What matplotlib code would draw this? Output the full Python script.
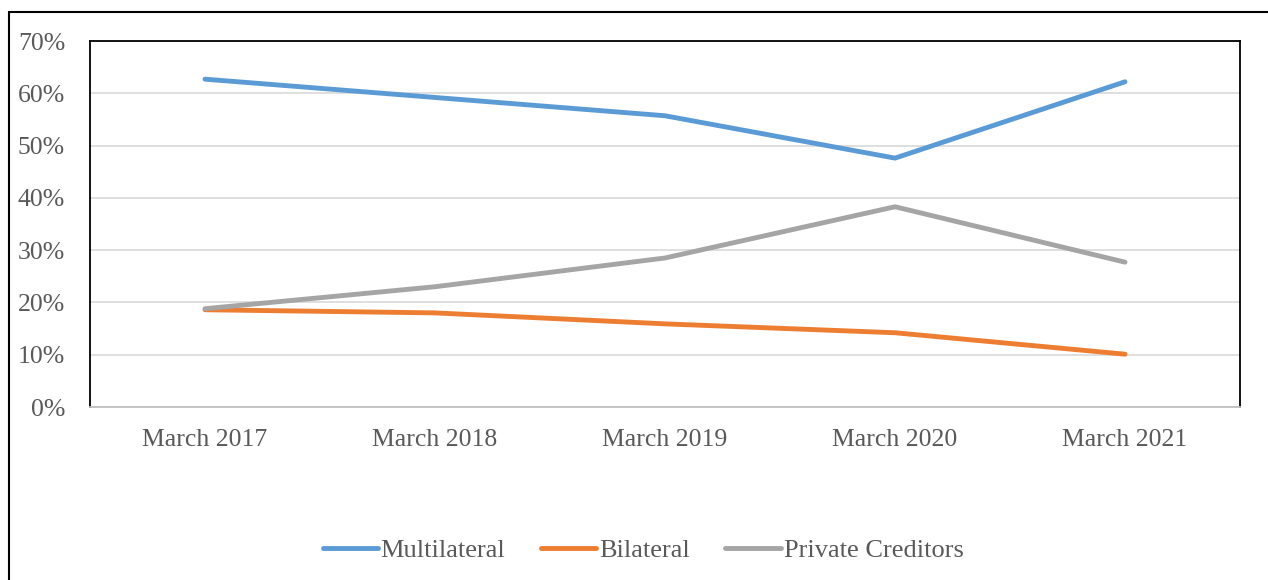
import matplotlib
matplotlib.use("Agg")
import matplotlib.pyplot as plt
from matplotlib.patches import Rectangle
from matplotlib.ticker import PercentFormatter

periods = ["March 2017", "March 2018", "March 2019", "March 2020", "March 2021"]
multilateral = [0.627, 0.592, 0.557, 0.476, 0.622]
bilateral = [0.186, 0.180, 0.159, 0.142, 0.101]
private_creditors = [0.188, 0.230, 0.285, 0.383, 0.277]

series = [
    ("Multilateral", multilateral, "#5B9BD5"),
    ("Bilateral", bilateral, "#ED7D31"),
    ("Private Creditors", private_creditors, "#A5A5A5"),
]

plt.rcParams["font.family"] = ["Liberation Serif", "DejaVu Serif"]
text_color = "#595959"
fs = 18.5

fig = plt.figure(figsize=(12.68, 5.80), dpi=100)
ax = fig.add_axes([90 / 1268, 1 - 407 / 580, 1150 / 1268, 366 / 580])

x = list(range(len(periods)))
for name, values, color in series:
    ax.plot(x, values, color=color, lw=3.5, solid_capstyle="round", label=name)

ax.set_xlim(-0.5, len(periods) - 0.5)
ax.set_ylim(0, 0.7)
ax.set_yticks([i / 10 for i in range(8)])
ax.yaxis.set_major_formatter(PercentFormatter(1.0, decimals=0))
ax.set_xticks(x)
ax.set_xticklabels(periods)
ax.grid(axis="y", color="#D9D9D9", lw=1.2)
ax.set_axisbelow(True)
ax.tick_params(length=0, labelsize=fs, labelcolor=text_color)
ax.tick_params(axis="y", pad=18)
ax.tick_params(axis="x", pad=15.5)
for side in ["left", "top", "right"]:
    ax.spines[side].set_color("black")
    ax.spines[side].set_linewidth(1.3)
ax.spines["bottom"].set_color("#BFBFBF")
ax.spines["bottom"].set_linewidth(1.3)

leg = fig.legend(loc="center", bbox_to_anchor=(643 / 1268, 1 - 550 / 580), ncol=3,
                 frameon=False, fontsize=19, handlelength=2.1, handletextpad=0.1,
                 columnspacing=1.35)
for t in leg.get_texts():
    t.set_color(text_color)

# outer chart frame (runs past the right and bottom edges)
fig.patches.append(Rectangle((9 / 1268, -0.05), 1.2, 1 - 12 / 580 + 0.05,
                             transform=fig.transFigure, fill=False,
                             edgecolor="black", lw=1.5))

fig.savefig("out.png", dpi=100)
